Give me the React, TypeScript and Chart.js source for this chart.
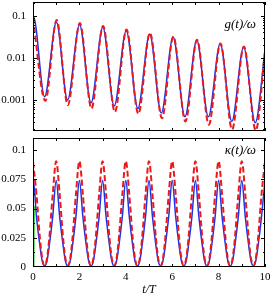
import { useEffect, useRef } from 'react';
import { Chart, registerables } from 'chart.js';
Chart.register(...registerables);

const SERIF = '"Liberation Serif", "DejaVu Serif", serif';

// ---- top panel: g(t)/omega (log scale) ----
const gRedT = [0, 0.53, 1.02, 1.5, 2.02, 2.52, 3.02, 3.53, 4.03, 4.54, 5.04, 5.56, 6.05, 6.57, 7.07, 7.58, 8.08, 8.58, 9.09, 9.6, 10];
const gRedV = [0.088, 0.00095, 0.079, 0.00076, 0.067, 0.00063, 0.057, 0.00052, 0.047, 0.00047, 0.039, 0.00037, 0.032, 0.00031, 0.027, 0.00026, 0.022, 0.0002, 0.0186, 0.00019, 0.014];
const gBlueT = [0, 0.02, 0.5, 1.01, 1.49, 2.01, 2.5, 3.01, 3.5, 4.02, 4.52, 5.03, 5.53, 6.04, 6.55, 7.06, 7.56, 8.07, 8.57, 9.08, 9.58, 10];
const gBlueV = [0.01, 0.094, 0.0012, 0.07, 0.001, 0.061, 0.00085, 0.053, 0.00072, 0.044, 0.00063, 0.037, 0.00049, 0.031, 0.0004, 0.026, 0.0004, 0.0215, 0.00031, 0.018, 0.00029, 0.0148];
const gGreenT = [0, 0.008];
const gGreenV = [0.00021, 0.09];
const gTickVals = [0.001, 0.01, 0.1];
const gTickLabels = ['0.001', '0.01', '0.1'];

// ---- bottom panel: kappa(t)/omega (linear) ----
const kRedT = [0, 0.15, 0.3, 0.4, 0.5, 0.6, 0.7, 0.85, 1, 1.15, 1.3, 1.4, 1.5, 1.6, 1.7, 1.85, 2, 2.15, 2.3, 2.4, 2.5, 2.6, 2.7, 2.85, 3, 3.15, 3.3, 3.4, 3.5, 3.6, 3.7, 3.85, 4, 4.15, 4.3, 4.4, 4.5, 4.6, 4.7, 4.85, 5, 5.15, 5.3, 5.4, 5.5, 5.6, 5.7, 5.85, 6, 6.15, 6.3, 6.4, 6.5, 6.6, 6.7, 6.85, 7, 7.15, 7.3, 7.4, 7.5, 7.6, 7.7, 7.85, 8, 8.15, 8.3, 8.4, 8.5, 8.6, 8.7, 8.85, 9, 9.15, 9.3, 9.4, 9.5, 9.6, 9.7, 9.85, 10];
const kRedV = [
  0.09, 0.062, 0.024, 0.007, 0.001, 0.007, 0.024, 0.062,
  0.0905, 0.062, 0.024, 0.007, 0.001, 0.007, 0.024, 0.062,
  0.0905, 0.062, 0.024, 0.007, 0.001, 0.007, 0.024, 0.062,
  0.0905, 0.062, 0.024, 0.007, 0.001, 0.007, 0.024, 0.062,
  0.0905, 0.062, 0.024, 0.007, 0.001, 0.007, 0.024, 0.062,
  0.0905, 0.062, 0.024, 0.007, 0.001, 0.007, 0.024, 0.062,
  0.0905, 0.062, 0.024, 0.007, 0.001, 0.007, 0.024, 0.062,
  0.0905, 0.062, 0.024, 0.007, 0.001, 0.007, 0.024, 0.062,
  0.0905, 0.062, 0.024, 0.007, 0.001, 0.007, 0.024, 0.062,
  0.0905, 0.062, 0.024, 0.007, 0.001, 0.007, 0.024, 0.062,
  0.0905,
];
const kBlueT = [0, 0.01, 0.15, 0.3, 0.4, 0.5, 0.6, 0.7, 0.85, 1, 1.15, 1.3, 1.4, 1.5, 1.6, 1.7, 1.85, 2, 2.15, 2.3, 2.4, 2.5, 2.6, 2.7, 2.85, 3, 3.15, 3.3, 3.4, 3.5, 3.6, 3.7, 3.85, 4, 4.15, 4.3, 4.4, 4.5, 4.6, 4.7, 4.85, 5, 5.15, 5.3, 5.4, 5.5, 5.6, 5.7, 5.85, 6, 6.15, 6.3, 6.4, 6.5, 6.6, 6.7, 6.85, 7, 7.15, 7.3, 7.4, 7.5, 7.6, 7.7, 7.85, 8, 8.15, 8.3, 8.4, 8.5, 8.6, 8.7, 8.85, 9, 9.15, 9.3, 9.4, 9.5, 9.6, 9.7, 9.85, 10];
const kBlueV = [
  0, 0.075, 0.043, 0.018, 0.005, 0.0008, 0.005, 0.018, 0.043,
  0.074, 0.043, 0.018, 0.005, 0.0008, 0.005, 0.018, 0.043,
  0.074, 0.043, 0.018, 0.005, 0.0008, 0.005, 0.018, 0.043,
  0.074, 0.043, 0.018, 0.005, 0.0008, 0.005, 0.018, 0.043,
  0.074, 0.043, 0.018, 0.005, 0.0008, 0.005, 0.018, 0.043,
  0.074, 0.043, 0.018, 0.005, 0.0008, 0.005, 0.018, 0.043,
  0.074, 0.043, 0.018, 0.005, 0.0008, 0.005, 0.018, 0.043,
  0.074, 0.043, 0.018, 0.005, 0.0008, 0.005, 0.018, 0.043,
  0.074, 0.043, 0.018, 0.005, 0.0008, 0.005, 0.018, 0.043,
  0.074, 0.043, 0.018, 0.005, 0.0008, 0.005, 0.018, 0.043,
  0.074,
];
const kGreenT = [0.03, 0.045];
const kGreenV = [0, 0.052];
const kTickVals = [0, 0.025, 0.05, 0.075, 0.1];
const kTickLabels = ['0', '0.025', '0.05', '0.075', '0.1'];

const xTickVals = [0, 1, 2, 3, 4, 5, 6, 7, 8, 9, 10];
const xTickLabels = ['0', '', '2', '', '4', '', '6', '', '8', '', '10'];

const RED = 'rgb(235,25,25)';
const BLUE = 'rgb(30,50,230)';
const GREEN = 'rgb(20,200,20)';

const pts = (t: number[], v: number[]) => t.map((x, i) => ({ x, y: v[i] }));

const zeroPad = (s: any) => {
  s.paddingTop = 0;
  s.paddingBottom = 0;
  s.paddingLeft = 0;
  s.paddingRight = 0;
};

function makeFramePlugin(label: string, labelY: number, isLog: boolean) {
  return {
    id: 'frame',
    afterDraw(chart: any) {
      const { ctx, chartArea: a, scales } = chart;
      const xs = scales.x;
      const ys = scales.y;
      ctx.save();
      ctx.strokeStyle = '#000';
      ctx.lineWidth = 1;
      ctx.strokeRect(a.left + 0.5, a.top + 0.5, a.right - a.left - 1, a.bottom - a.top - 1);
      ctx.beginPath();
      for (const t of xTickVals) {
        const px = Math.round(xs.getPixelForValue(t)) + 0.5;
        ctx.moveTo(px, a.bottom);
        ctx.lineTo(px, a.bottom - 3);
        ctx.moveTo(px, a.top);
        ctx.lineTo(px, a.top + 3);
      }
      const tick = (v: number, len: number) => {
        const py = Math.round(ys.getPixelForValue(v)) + 0.5;
        if (py < a.top || py > a.bottom) return;
        ctx.moveTo(a.left, py);
        ctx.lineTo(a.left + len, py);
        ctx.moveTo(a.right, py);
        ctx.lineTo(a.right - len, py);
      };
      if (isLog) {
        for (let e = -4; e <= -1; e++) {
          for (let m = 1; m <= 9; m++) {
            const v = m * Math.pow(10, e);
            if (v < ys.min || v > ys.max) continue;
            tick(v, m === 1 ? 4 : 2);
          }
        }
      } else {
        for (let i = 0; i < kTickVals.length; i++) {
          tick(kTickVals[i], 4);
          if (i < kTickVals.length - 1) tick((kTickVals[i] + kTickVals[i + 1]) / 2, 2);
        }
      }
      ctx.stroke();
      ctx.fillStyle = '#000';
      ctx.font = 'italic 13px ' + SERIF;
      ctx.textAlign = 'right';
      ctx.textBaseline = 'middle';
      ctx.fillText(label, 256, labelY);
      ctx.restore();
    },
  };
}

function baseDatasets(red: any[], blue: any[], green: any[]) {
  return [
    { data: red, borderColor: RED, borderWidth: 2, borderDash: [6, 3], pointRadius: 0, cubicInterpolationMode: 'monotone', order: 1, fill: false },
    { data: blue, borderColor: BLUE, borderWidth: 1.5, pointRadius: 0, cubicInterpolationMode: 'monotone', order: 2, fill: false },
    { data: green, borderColor: GREEN, borderWidth: 1.5, pointRadius: 0, order: 3, fill: false },
  ];
}

export default function App() {
  const topRef = useRef<HTMLCanvasElement>(null);
  const botRef = useRef<HTMLCanvasElement>(null);

  useEffect(() => {
    const tickFont = { family: SERIF, size: 11 };
    const noGrid = { display: false, drawTicks: false, drawOnChartArea: false, tickLength: 0 };
    const top = new Chart(topRef.current!, {
      type: 'line',
      data: { datasets: baseDatasets(pts(gRedT, gRedV), pts(gBlueT, gBlueV), pts(gGreenT, gGreenV)) as any },
      options: {
        animation: false,
        responsive: false,
        events: [],
        layout: { padding: { top: 2, right: 7, bottom: 5, left: 0 } },
        plugins: { legend: { display: false }, tooltip: { enabled: false } },
        scales: {
          x: {
            type: 'linear', min: 0, max: 10,
            grid: noGrid, border: { display: false },
            ticks: { display: false },
            afterFit: (s: any) => { s.height = 0; zeroPad(s); },
          },
          y: {
            type: 'logarithmic', min: 0.000184, max: 0.211,
            grid: noGrid, border: { display: false },
            afterBuildTicks: (s: any) => { s.ticks = gTickVals.map((v) => ({ value: v })); },
            ticks: {
              autoSkip: false, padding: 7, color: '#000', font: tickFont,
              callback: (v: any) => { const i = gTickVals.indexOf(Number(v)); return i >= 0 ? gTickLabels[i] : ''; },
            },
            afterFit: (s: any) => { s.width = 33; zeroPad(s); },
          },
        },
      } as any,
      plugins: [makeFramePlugin('g(t)/ω', 25, true)],
    });

    const bot = new Chart(botRef.current!, {
      type: 'line',
      data: { datasets: baseDatasets(pts(kRedT, kRedV), pts(kBlueT, kBlueV), pts(kGreenT, kGreenV)) as any },
      options: {
        animation: false,
        responsive: false,
        events: [],
        layout: { padding: { top: 2, right: 7, bottom: 0, left: 0 } },
        plugins: { legend: { display: false }, tooltip: { enabled: false } },
        scales: {
          x: {
            type: 'linear', min: 0, max: 10,
            grid: noGrid, border: { display: false },
            afterBuildTicks: (s: any) => { s.ticks = xTickVals.map((v) => ({ value: v })); },
            ticks: {
              autoSkip: false, padding: 4, color: '#000', font: tickFont, maxRotation: 0,
              callback: (v: any) => { const i = xTickVals.indexOf(Number(v)); return i >= 0 ? xTickLabels[i] : ''; },
            },
            title: { display: true, text: 't/T', color: '#000', font: { family: SERIF, size: 12, style: 'italic' }, padding: { top: 0, bottom: 2 } },
            afterFit: (s: any) => { s.height = 32; zeroPad(s); },
          },
          y: {
            type: 'linear', min: 0, max: 0.1103,
            grid: noGrid, border: { display: false },
            afterBuildTicks: (s: any) => { s.ticks = kTickVals.map((v) => ({ value: v })); },
            ticks: {
              autoSkip: false, padding: 7, color: '#000', font: tickFont,
              callback: (v: any) => { const i = kTickVals.indexOf(Number(v)); return i >= 0 ? kTickLabels[i] : ''; },
            },
            afterFit: (s: any) => { s.width = 33; zeroPad(s); },
          },
        },
      } as any,
      plugins: [makeFramePlugin('κ(t)/ω', 15, false)],
    });

    return () => {
      top.destroy();
      bot.destroy();
    };
  }, []);

  return (
    <div style={{ position: 'absolute', left: 0, top: 0, width: 272, height: 299, background: '#fff' }}>
      <canvas ref={topRef} width={272} height={136} style={{ position: 'absolute', left: 0, top: 0, width: 272, height: 136 }} />
      <canvas ref={botRef} width={272} height={163} style={{ position: 'absolute', left: 0, top: 136, width: 272, height: 163 }} />
    </div>
  );
}
